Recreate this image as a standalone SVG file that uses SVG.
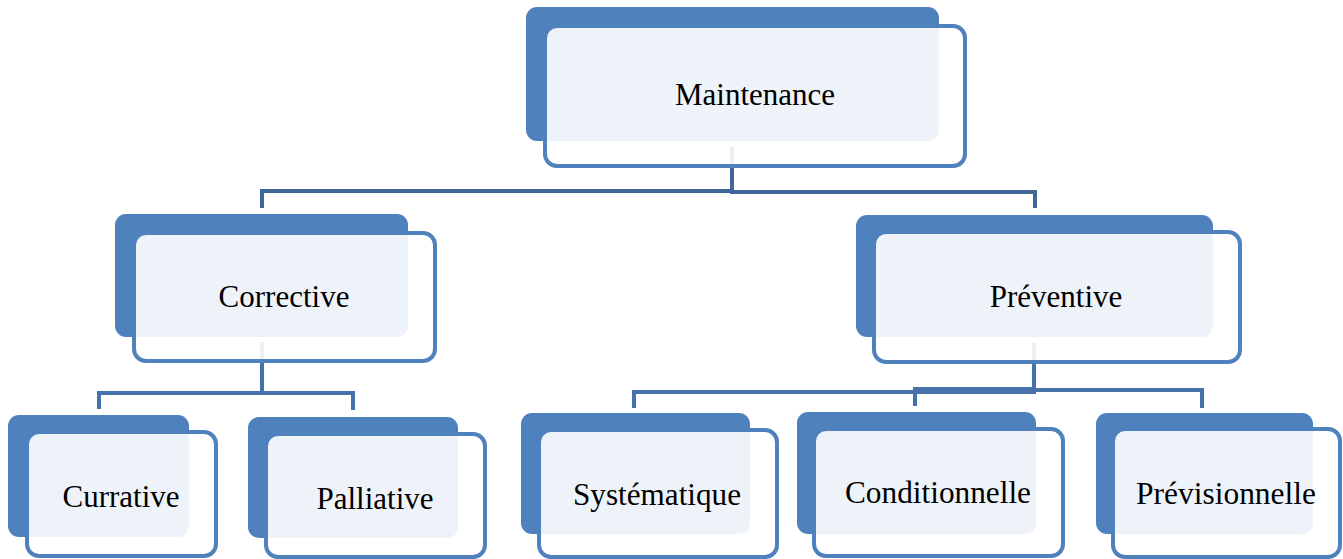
<svg xmlns="http://www.w3.org/2000/svg" width="1343" height="559" viewBox="0 0 1343 559">
<style>
.back{fill:#4F81BD}
.front{fill:#FFFFFF;fill-opacity:0.9;stroke:#4F81BD;stroke-width:4}
.conn{fill:none;stroke:#4672AC;stroke-width:4}
.top{stroke:#41679A}
.lbl{font-family:"Liberation Serif","Times New Roman",serif;font-size:31px;fill:#000;text-anchor:middle}
</style>
<rect width="1343" height="559" fill="#FFFFFF"/>
<g id="connectors">
<path class="conn top" d="M732 147 V191 H262 V208"/>
<path class="conn top" d="M732 147 V192 H1035 V208"/>
<path class="conn" d="M262 342 V393 H99 V409"/>
<path class="conn" d="M262 342 V393 H353 V410"/>
<path class="conn" d="M1034 343 V392 H634 V408"/>
<path class="conn" d="M1034 343 V389 H915 V406"/>
<path class="conn" d="M1034 343 V390 H1202 V408"/>
</g>
<g id="maintenance">
<rect class="back" x="526" y="7" width="413" height="134" rx="11"/>
<rect class="front" x="545" y="26" width="420" height="140" rx="12"/>
<text class="lbl" x="755" y="105">Maintenance</text>
</g>
<g id="corrective">
<rect class="back" x="115" y="214" width="293" height="123" rx="11"/>
<rect class="front" x="134" y="233" width="301" height="128" rx="12"/>
<text class="lbl" x="284" y="307">Corrective</text>
</g>
<g id="preventive">
<rect class="back" x="856" y="215" width="357" height="122" rx="11"/>
<rect class="front" x="874" y="232" width="366" height="130" rx="12"/>
<text class="lbl" x="1056" y="307">Préventive</text>
</g>
<g id="currative">
<rect class="back" x="8" y="415" width="181" height="122" rx="11"/>
<rect class="front" x="27" y="432" width="189" height="124" rx="12"/>
<text class="lbl" x="121" y="507">Currative</text>
</g>
<g id="palliative">
<rect class="back" x="248" y="417" width="210" height="121" rx="11"/>
<rect class="front" x="266" y="434" width="219" height="123" rx="12"/>
<text class="lbl" x="375" y="509">Palliative</text>
</g>
<g id="systematique">
<rect class="back" x="521" y="413" width="229" height="121" rx="11"/>
<rect class="front" x="539" y="430" width="238" height="127" rx="12"/>
<text class="lbl" x="657" y="505" textLength="168" lengthAdjust="spacingAndGlyphs">Systématique</text>
</g>
<g id="conditionnelle">
<rect class="back" x="797" y="412" width="239" height="122" rx="11"/>
<rect class="front" x="814" y="429" width="249" height="127" rx="12"/>
<text class="lbl" x="938" y="503" textLength="186" lengthAdjust="spacingAndGlyphs">Conditionnelle</text>
</g>
<g id="previsionnelle">
<rect class="back" x="1096" y="413" width="217" height="121" rx="11"/>
<rect class="front" x="1113" y="429" width="227" height="128" rx="12"/>
<text class="lbl" x="1226" y="504" textLength="180" lengthAdjust="spacingAndGlyphs">Prévisionnelle</text>
</g>
</svg>
